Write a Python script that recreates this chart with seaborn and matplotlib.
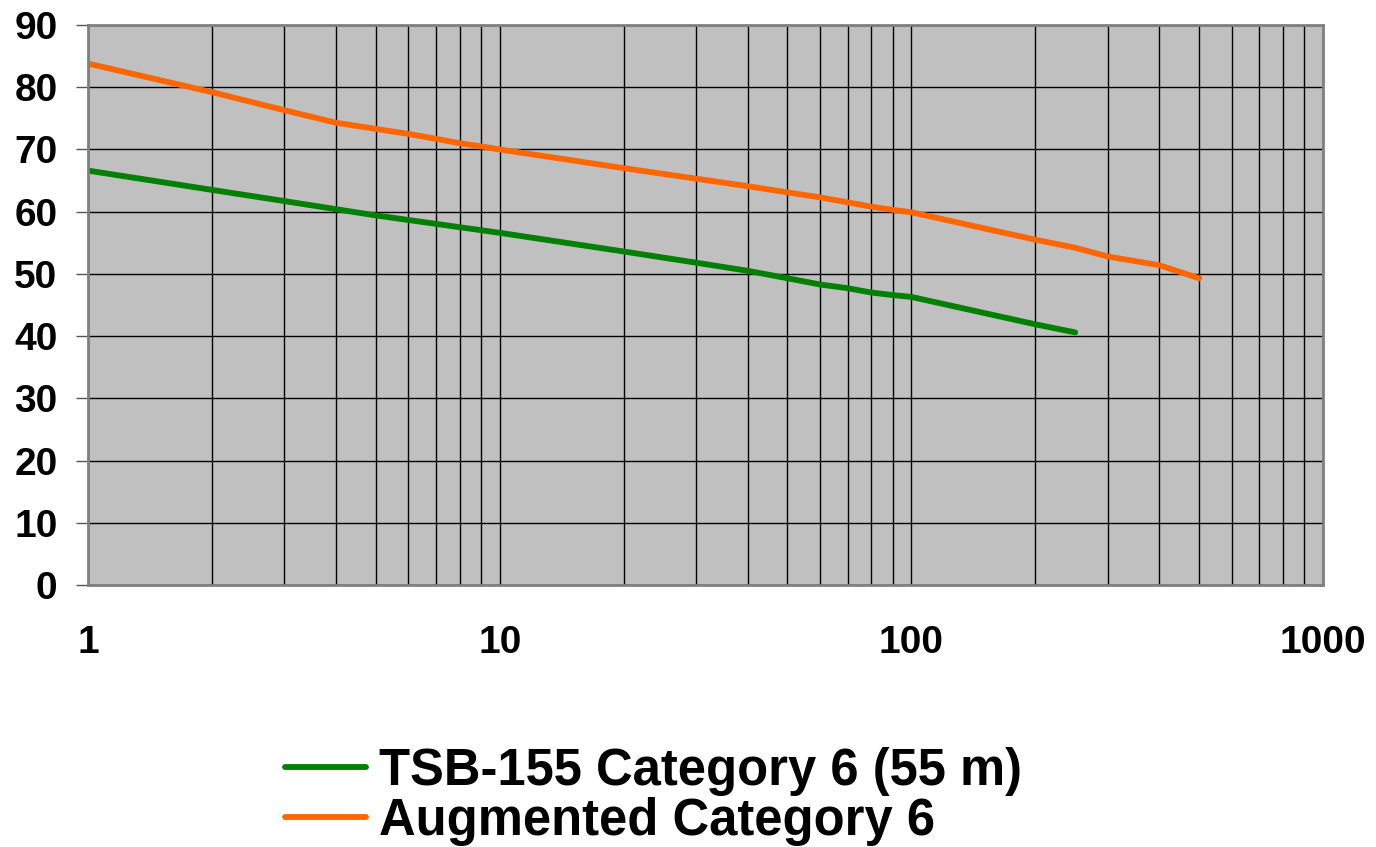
import pandas as pd
import numpy as np
import matplotlib
matplotlib.use('Agg')
import matplotlib.pyplot as plt
import seaborn as sns
from matplotlib.ticker import LogLocator, NullFormatter, FixedLocator, FixedFormatter

sns.set_theme(style="white")
plt.rcParams['font.family'] = ['Liberation Sans', 'DejaVu Sans']
plt.rcParams['font.weight'] = 'bold'
plt.rcParams['text.color'] = 'black'
plt.rcParams['xtick.labelcolor'] = 'black'
plt.rcParams['ytick.labelcolor'] = 'black'

# Values
freq_tsb = [1, 2, 3, 4, 5, 10, 20, 30, 40, 50, 60, 70, 80, 90, 100, 200, 250]
tsb_vals = [66.6, 63.5, 61.7, 60.4, 59.4, 56.6, 53.6, 51.8, 50.5, 49.3, 48.3, 47.7, 47.0, 46.6, 46.3, 41.9, 40.6]

freq_aug = [1, 2, 3, 4, 5, 6, 7, 8, 9, 10, 20, 30, 40, 50, 60, 70, 80, 90, 100, 200, 250, 300, 400, 500]
aug_vals = [83.8, 79.2, 76.3, 74.3, 73.3, 72.5, 71.7, 71.0, 70.5, 70.0, 67.0, 65.3, 64.1, 63.1, 62.3, 61.5, 60.8, 60.3, 59.9, 55.5, 54.2, 52.8, 51.4, 49.3]

series_names = ['TSB-155 Category 6 (55 m)', 'Augmented Category 6']
series_colors = ['#008000', '#FF6600']
y_ticks = list(range(0, 91, 10))
x_ticks = [1, 10, 100, 1000]

df = pd.concat([
    pd.DataFrame({'freq': freq_tsb, 'value': tsb_vals, 'series': series_names[0]}),
    pd.DataFrame({'freq': freq_aug, 'value': aug_vals, 'series': series_names[1]}),
])

fig = plt.figure(figsize=(13.76, 8.47), dpi=100)
ax = fig.add_axes([0.064, 0.3093, 0.8975, 0.6612])
ax.set_facecolor('#C0C0C0')

sns.lineplot(data=df, x='freq', y='value', hue='series', palette=series_colors,
             hue_order=series_names, linewidth=4.2, ax=ax, legend=False,
             estimator=None, sort=False)

ax.set_xscale('log')
ax.set_xlim(1, 1000)
ax.set_ylim(0, 90)
ax.set_xlabel('')
ax.set_ylabel('')

ax.xaxis.set_major_locator(FixedLocator(x_ticks))
ax.xaxis.set_major_formatter(FixedFormatter([str(v) for v in x_ticks]))
ax.xaxis.set_minor_locator(LogLocator(base=10, subs=np.arange(2, 10)))
ax.xaxis.set_minor_formatter(NullFormatter())
ax.set_yticks(y_ticks)

ax.grid(True, which='both', axis='x', color='black', linewidth=1)
ax.grid(True, which='major', axis='y', color='black', linewidth=1)
ax.set_axisbelow(True)

ax.tick_params(axis='x', which='major', direction='out', length=9, width=1,
               color='#555555', pad=20, labelsize=28)
ax.tick_params(axis='x', which='minor', length=0)
ax.tick_params(axis='y', which='major', direction='out', length=9, width=1,
               color='#555555', pad=13, labelsize=28, left=True)
for lab in ax.get_xticklabels() + ax.get_yticklabels():
    lab.set_fontweight('bold')

for s in ax.spines.values():
    s.set_color('#808080')
    s.set_linewidth(2)

handles = [plt.Line2D([], [], color=c, linewidth=4.2, solid_capstyle='round') for c in series_colors]
fig.legend(handles, series_names, loc='upper left', bbox_to_anchor=(0.207, 0.118),
           bbox_transform=fig.transFigure, frameon=False, handlelength=1.6,
           handletextpad=0.26, labelspacing=0.02, borderaxespad=0, borderpad=0,
           prop={'size': 36.5, 'weight': 'bold'})

fig.savefig('out.png', dpi=100)
